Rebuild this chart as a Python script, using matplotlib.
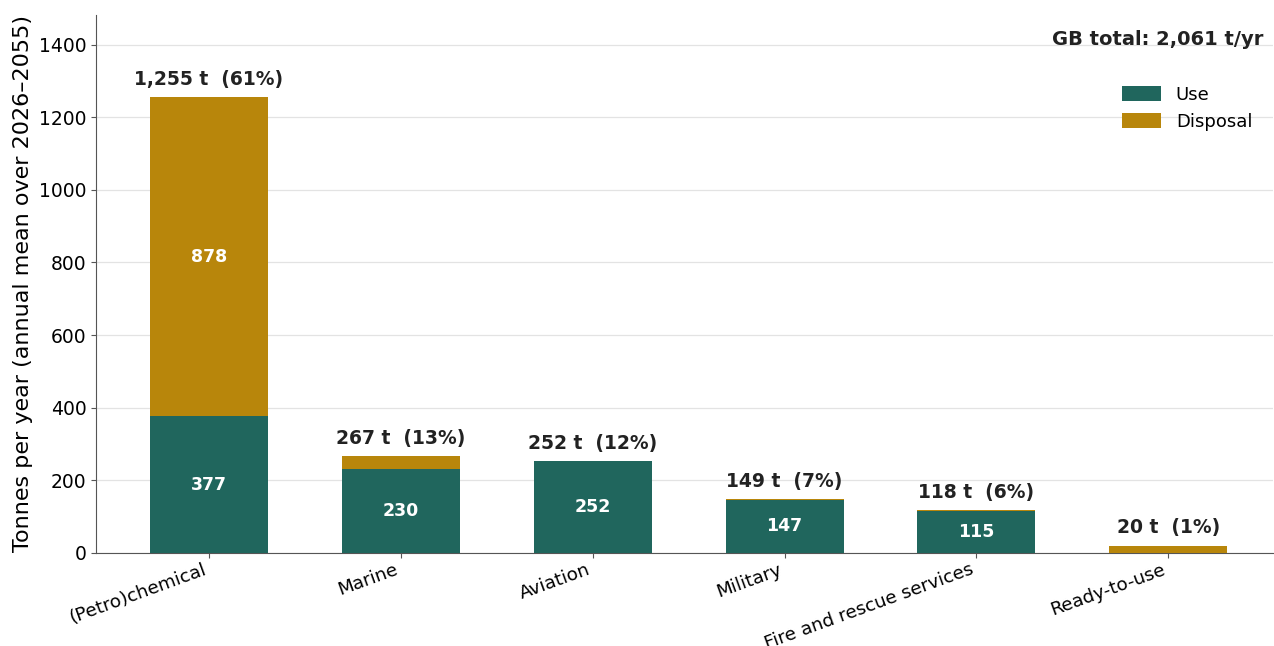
import matplotlib
matplotlib.use("Agg")
import matplotlib.pyplot as plt
import numpy as np

categories = ["(Petro)chemical", "Marine", "Aviation", "Military", "Fire and rescue services", "Ready-to-use"]
use_vals = [377, 230, 252, 147, 115, 0]
disposal_vals = [878, 37, 0, 2, 3, 20]
totals = [1255, 267, 252, 149, 118, 20]
shares = [61, 13, 12, 7, 6, 1]
gb_total = 2061

USE_C = "#20665d"
DISP_C = "#b8860b"

fig = plt.figure(figsize=(12.74, 6.46), dpi=100)
ax = fig.add_axes([0.0754, 0.144, 0.924, 0.833])

x = np.arange(len(categories))
w = 0.615
ax.bar(x, use_vals, w, color=USE_C, label="Use", zorder=3)
ax.bar(x, disposal_vals, w, bottom=use_vals, color=DISP_C, label="Disposal", zorder=3)

for i in range(len(categories)):
    if use_vals[i] > 50:
        ax.text(x[i], use_vals[i] / 2, f"{use_vals[i]}", ha="center", va="center",
                color="white", fontsize=12.5, fontweight="bold", zorder=4)
    if disposal_vals[i] > 50:
        ax.text(x[i], use_vals[i] + disposal_vals[i] / 2, f"{disposal_vals[i]}", ha="center",
                va="center", color="white", fontsize=12.5, fontweight="bold", zorder=4)
    ax.annotate(f"{totals[i]:,} t  ({shares[i]}%)", (x[i], totals[i]), xytext=(0, 6),
                textcoords="offset points", ha="center", va="bottom",
                fontsize=13.5, fontweight="bold", color="#222222")

ax.set_xlim(-0.589, 5.547)
ax.set_ylim(0, 1482)
ax.set_yticks(range(0, 1401, 200))
ax.set_xticks(x)
ax.set_xticklabels(categories, rotation=20, ha="right", fontsize=13.2)
ax.tick_params(axis="y", labelsize=13.5, color="#555555")
ax.tick_params(axis="x", color="#555555", pad=2)
ax.set_ylabel("Tonnes per year (annual mean over 2026\u20132055)", fontsize=16)

ax.grid(axis="y", color="#e3e3e3", linewidth=0.9, zorder=0)
ax.set_axisbelow(True)
for s in ["top", "right"]:
    ax.spines[s].set_visible(False)
for s in ["left", "bottom"]:
    ax.spines[s].set_color("#555555")

ax.text(0.9915, 0.955, f"GB total: {gb_total:,} t/yr", transform=ax.transAxes, ha="right",
        va="center", fontsize=14, fontweight="bold", color="#222222")
ax.legend(loc="upper right", bbox_to_anchor=(0.996, 0.898), frameon=False, fontsize=13,
          handlelength=2.2, handleheight=0.9)

fig.savefig("out.png", dpi=100)
